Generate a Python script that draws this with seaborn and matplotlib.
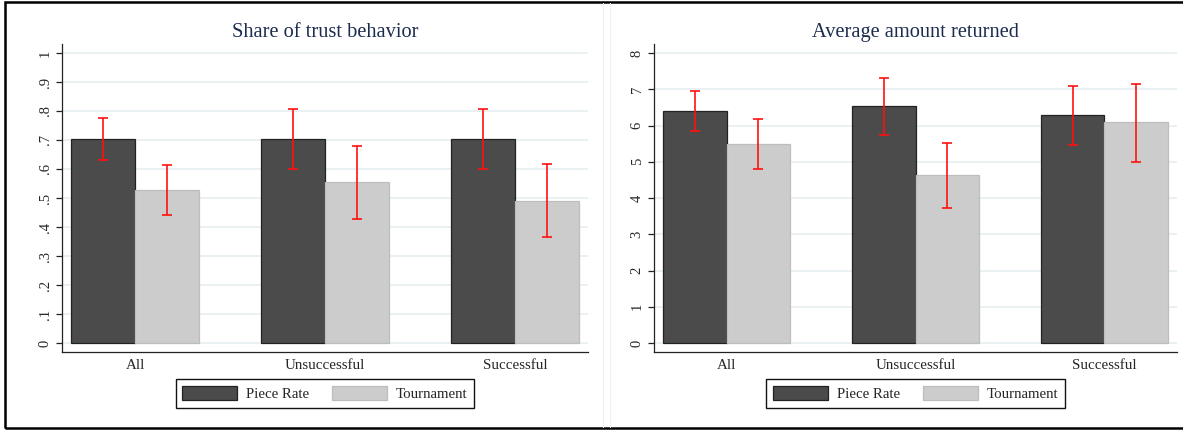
import matplotlib
matplotlib.use("Agg")
import matplotlib.pyplot as plt
from matplotlib.patches import Patch, Rectangle
from matplotlib.lines import Line2D
import pandas as pd
import seaborn as sns

groups = ["All", "Unsuccessful", "Successful"]
schemes = ["Piece Rate", "Tournament"]

trust_pr = [0.705, 0.704, 0.704]
trust_pr_lo = [0.631, 0.600, 0.600]
trust_pr_hi = [0.776, 0.808, 0.808]
trust_t = [0.529, 0.554, 0.491]
trust_t_lo = [0.442, 0.428, 0.364]
trust_t_hi = [0.614, 0.680, 0.617]

ret_pr = [6.39, 6.53, 6.28]
ret_pr_lo = [5.84, 5.75, 5.47]
ret_pr_hi = [6.94, 7.31, 7.10]
ret_t = [5.48, 4.64, 6.09]
ret_t_lo = [4.80, 3.72, 5.00]
ret_t_hi = [6.17, 5.53, 7.14]

trust_ticks = [0, .1, .2, .3, .4, .5, .6, .7, .8, .9, 1]
trust_labels = ["0", ".1", ".2", ".3", ".4", ".5", ".6", ".7", ".8", ".9", "1"]
ret_ticks = [0, 1, 2, 3, 4, 5, 6, 7, 8]
ret_labels = ["0", "1", "2", "3", "4", "5", "6", "7", "8"]

DARK = "#4b4b4b"
LIGHT = "#cccccc"
TITLE_C = "#1c2c4f"

sns.set_theme(style="white")
plt.rcParams["font.family"] = ["Liberation Serif", "DejaVu Serif"]

fig = plt.figure(figsize=(11.83, 4.30), dpi=100)
W, H = 1183, 430


def panel(rect, title, pr, pr_lo, pr_hi, t, t_lo, t_hi, ticks, labels, ylim):
    ax = fig.add_axes(rect)
    df = pd.DataFrame({
        "group": groups * 2,
        "scheme": [schemes[0]] * 3 + [schemes[1]] * 3,
        "value": pr + t,
    })
    sns.barplot(data=df, x="group", y="value", hue="scheme",
                palette=[DARK, LIGHT], saturation=1, width=0.67,
                errorbar=None, legend=False, ax=ax, zorder=2)
    los = [pr_lo, t_lo]
    his = [pr_hi, t_hi]
    vals = [pr, t]
    edges = ["#222222", "#bdbdbd"]
    bar_sets = list(ax.containers)
    for k, cont in enumerate(bar_sets):
        for i, bar in enumerate(cont):
            bar.set_edgecolor(edges[k])
            bar.set_linewidth(0.9)
            xc = bar.get_x() + bar.get_width() / 2
            v = vals[k][i]
            ax.errorbar(xc, v, yerr=[[v - los[k][i]], [his[k][i] - v]],
                        fmt="none", ecolor="#ff1010", elinewidth=1.2,
                        capsize=3.3, capthick=1.2, zorder=4)
    ax.set_xlim(-0.385, 2.385)
    ax.set_ylim(*ylim)
    ax.set_yticks(ticks)
    ax.set_yticklabels(labels, rotation=90, va="center", fontsize=10.5)
    ax.yaxis.grid(True, color="#eaf1f3", linewidth=1.4, zorder=0)
    ax.set_axisbelow(True)
    ax.tick_params(axis="y", length=4.5, width=0.9, color="#222222", pad=3,
                   left=True, direction="out")
    ax.tick_params(axis="x", length=0, pad=5, labelsize=10.8)
    ax.set_xlabel("")
    ax.set_ylabel("")
    for s in ["top", "right"]:
        ax.spines[s].set_visible(False)
    for s in ["left", "bottom"]:
        ax.spines[s].set_color("#222222")
        ax.spines[s].set_linewidth(0.9)
    ax.set_title(title, color=TITLE_C, fontsize=14.7, pad=5)
    handles = [Patch(facecolor=DARK, edgecolor="#222222", linewidth=0.9),
               Patch(facecolor=LIGHT, edgecolor="#bdbdbd", linewidth=0.9)]
    leg = ax.legend(handles, schemes, loc="upper center", ncol=2,
                    bbox_to_anchor=(0.5, -0.088), borderaxespad=0,
                    fontsize=10.7, handlelength=3.7, handleheight=1.1,
                    handletextpad=0.6, columnspacing=1.55, borderpad=0.45,
                    fancybox=False, framealpha=1, edgecolor="#111111")
    leg.get_frame().set_linewidth(1.0)
    return ax


panel([62 / W, 1 - 352 / H, 526 / W, 308 / H], "Share of trust behavior",
      trust_pr, trust_pr_lo, trust_pr_hi, trust_t, trust_t_lo, trust_t_hi,
      trust_ticks, trust_labels, (-0.031, 1.031))
panel([654 / W, 1 - 352 / H, 523 / W, 308 / H], "Average amount returned",
      ret_pr, ret_pr_lo, ret_pr_hi, ret_t, ret_t_lo, ret_t_hi,
      ret_ticks, ret_labels, (-0.248, 8.25))

# outer frame and faint panel separators
fig.add_artist(Rectangle((5 / W, 2 / H), 1.2, 1 - 4 / H, transform=fig.transFigure,
                         fill=False, edgecolor="black", linewidth=1.8))
for xp in (603, 610):
    fig.add_artist(Line2D([xp / W, xp / W], [3 / H, 1 - 3 / H],
                          transform=fig.transFigure, color="#f0f0f0", linewidth=0.8))

fig.savefig("out.png", dpi=100)
